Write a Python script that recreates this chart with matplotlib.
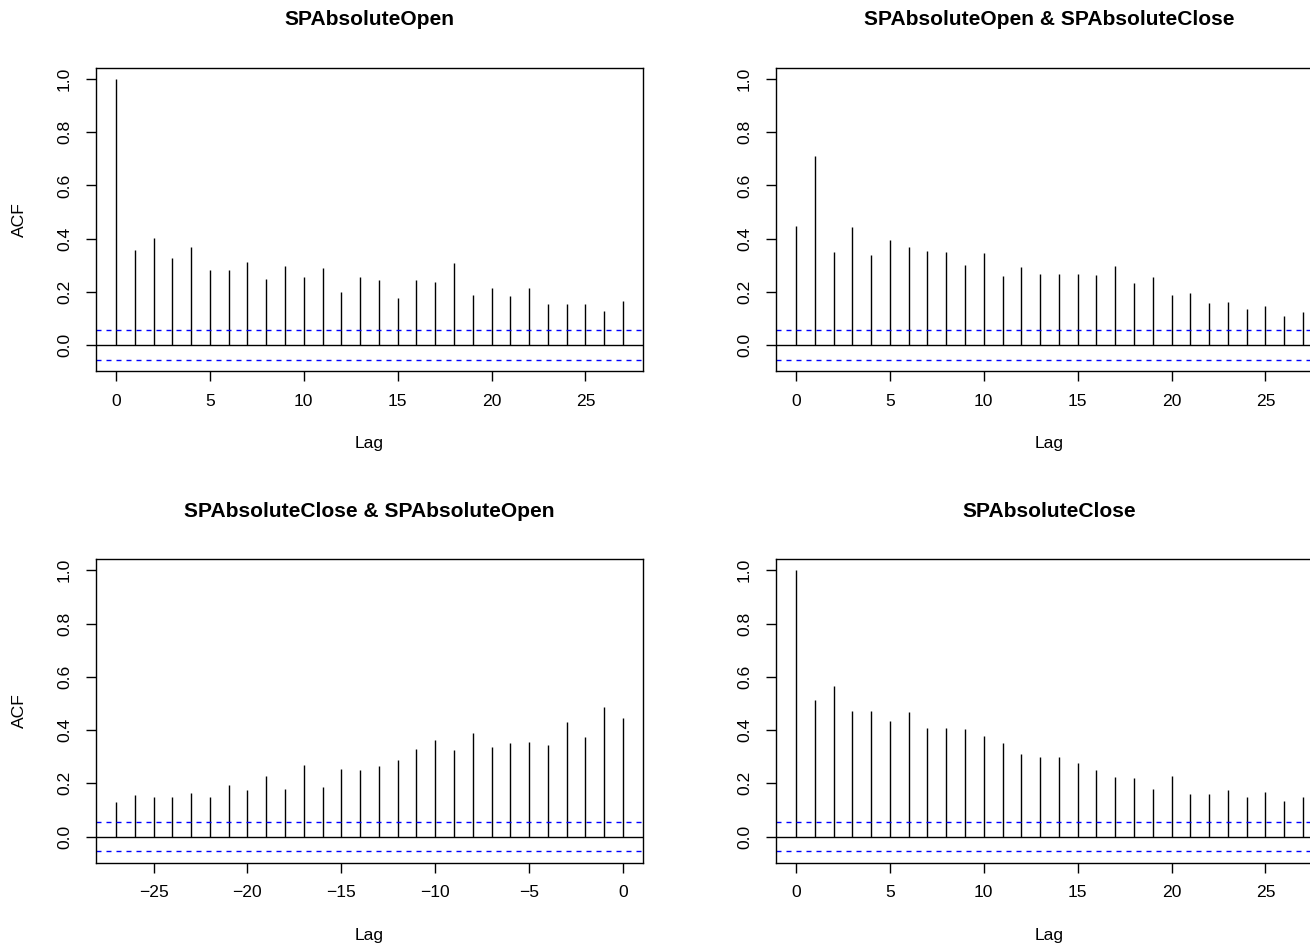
import numpy as np
import matplotlib
matplotlib.use("Agg")
import matplotlib.pyplot as plt

plt.rcParams['font.family'] = ['Liberation Sans', 'DejaVu Sans']

lags_pos = list(range(0, 28))
lags_neg = list(range(-27, 1))

acf_open = [1.0, 0.359, 0.403, 0.326, 0.368, 0.281, 0.281, 0.313, 0.250, 0.299,
            0.256, 0.291, 0.198, 0.256, 0.243, 0.178, 0.245, 0.238, 0.309, 0.190,
            0.215, 0.183, 0.215, 0.155, 0.156, 0.155, 0.128, 0.164]

ccf_open_close = [0.446, 0.709, 0.350, 0.444, 0.338, 0.396, 0.370, 0.354, 0.349, 0.301,
                  0.346, 0.258, 0.295, 0.266, 0.266, 0.269, 0.265, 0.296, 0.235, 0.256,
                  0.188, 0.196, 0.158, 0.161, 0.134, 0.148, 0.111, 0.124]

ccf_close_open = [0.129, 0.155, 0.148, 0.150, 0.163, 0.149, 0.194, 0.174, 0.229, 0.178,
                  0.267, 0.186, 0.254, 0.249, 0.265, 0.287, 0.327, 0.363, 0.324, 0.389,
                  0.338, 0.350, 0.354, 0.344, 0.431, 0.373, 0.488, 0.446]

acf_close = [1.0, 0.513, 0.564, 0.472, 0.473, 0.433, 0.466, 0.407, 0.408, 0.404,
             0.379, 0.353, 0.310, 0.297, 0.300, 0.275, 0.249, 0.224, 0.219, 0.180,
             0.227, 0.158, 0.161, 0.174, 0.148, 0.166, 0.134, 0.149]

titles = ["SPAbsoluteOpen", "SPAbsoluteOpen & SPAbsoluteClose",
          "SPAbsoluteClose & SPAbsoluteOpen", "SPAbsoluteClose"]
ci = 0.0561
yticks = [0.0, 0.2, 0.4, 0.6, 0.8, 1.0]

W, H = 1310, 946
fig = plt.figure(figsize=(W / 100, H / 100), dpi=100)

axw, axh = 547.6, 303.6
lefts = [95.7, 775.7]
bottoms = [371.3, 862.7]

panels = [
    (lags_pos, acf_open, titles[0], 0, 0, True),
    (lags_pos, ccf_open_close, titles[1], 1, 0, False),
    (lags_neg, ccf_close_open, titles[2], 0, 1, True),
    (lags_pos, acf_close, titles[3], 1, 1, False),
]

for lags, vals, title, col, row, ylab in panels:
    l = lefts[col] / W
    b = (H - bottoms[row]) / H
    ax = fig.add_axes([l, b, axw / W, axh / H])
    ax.vlines(lags, 0, vals, color='black', lw=1.0)
    ax.axhline(0, color='black', lw=1.0)
    ax.axhline(ci, color='blue', lw=1.0, ls=(0, (3.6, 3.6)))
    ax.axhline(-ci, color='blue', lw=1.0, ls=(0, (3.6, 3.6)))
    lo, hi = min(lags), max(lags)
    span = hi - lo
    ax.set_xlim(lo - 0.04 * span, hi + 0.04 * span)
    ylo, yhi = -ci, 1.0
    ys = yhi - ylo
    ax.set_ylim(ylo - 0.04 * ys, yhi + 0.04 * ys)
    if lo < 0:
        ax.set_xticks([-25, -20, -15, -10, -5, 0])
    else:
        ax.set_xticks([0, 5, 10, 15, 20, 25])
    ax.set_yticks(yticks)
    ax.set_yticklabels([f"{v:.1f}" for v in yticks], rotation=90, va='center')
    ax.tick_params(axis='both', direction='out', length=7.5, width=1.0,
                   labelsize=12.6, color='black')
    ax.tick_params(axis='x', pad=8.5)
    ax.tick_params(axis='y', pad=9.5)
    for s in ax.spines.values():
        s.set_linewidth(1.0)
        s.set_color('black')
    ax.set_xlabel('Lag', fontsize=12.6)
    ax.xaxis.set_label_coords(0.5, -72.5 / axh)
    ax.xaxis.label.set_va('center')
    if ylab:
        ax.set_ylabel('ACF', fontsize=12.6)
        ax.yaxis.set_label_coords(-76.5 / axw, 0.5)
        ax.yaxis.label.set_va('center')
    ax.text(0.5, 1 + 47.7 / axh, title, transform=ax.transAxes, ha='center',
            va='center', fontsize=15.1, fontweight='bold')

fig.savefig('out.png', dpi=100)
